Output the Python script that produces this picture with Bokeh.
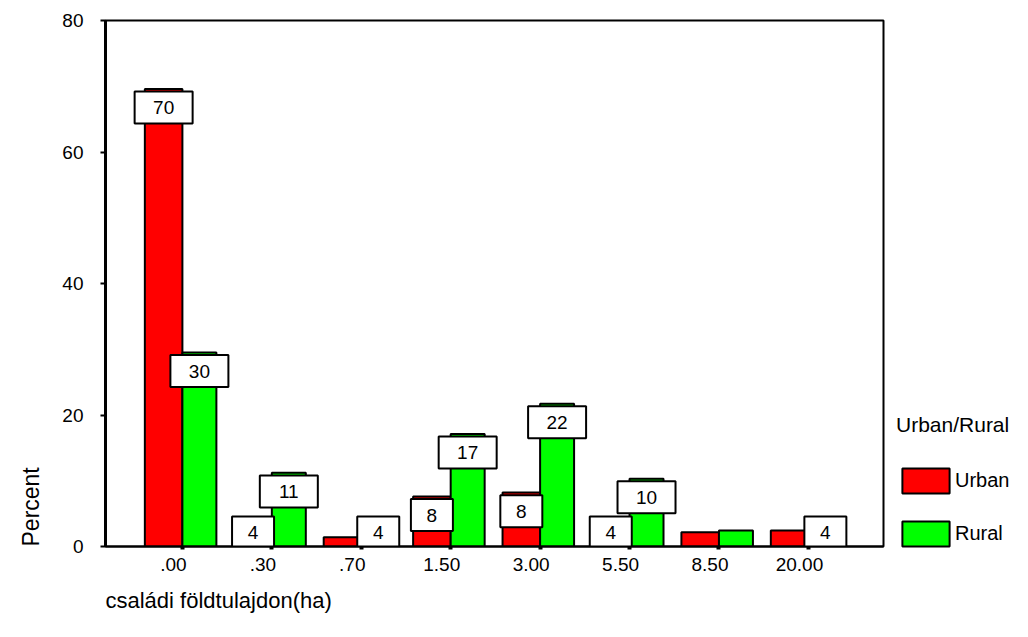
import math
from bokeh.plotting import figure
from bokeh.models import Range1d, FixedTicker, Legend, LegendItem, Title, LinearAxis
from bokeh.core.properties import value
from bokeh.embed import file_html
from bokeh.resources import INLINE

# ---- data ----
categories = [".00", ".30", ".70", "1.50", "3.00", "5.50", "8.50", "20.00"]
urban = [69.6, 3.9, 1.4, 7.6, 8.2, 3.9, 2.15, 2.45]
rural = [29.5, 11.2, 3.9, 17.1, 21.7, 10.3, 2.45, 3.9]
urban_labels = ["70", "4", "", "8", "8", "4", "", ""]
rural_labels = ["30", "11", "4", "17", "22", "10", "", "4"]
y_ticks = [0, 20, 40, 60, 80]
series_names = ["Urban", "Rural"]
legend_title = "Urban/Rural"
x_title = "családi földtulajdon(ha)"
y_title = "Percent"

FONT = "Liberation Sans"
RED = "#FF0000"
GREEN = "#00FF00"

idx = list(range(len(categories)))

p = figure(frame_width=778, frame_height=526,
           min_border_left=105, min_border_right=129,
           min_border_top=20, min_border_bottom=75,
           x_range=Range1d(-0.86, 7.84), y_range=Range1d(0, 80),
           x_axis_location=None,
           output_backend="svg", toolbar_location=None,
           background_fill_color="white", border_fill_color="white")

p.xgrid.visible = False
p.ygrid.visible = False
p.outline_line_color = "black"
p.outline_line_width = 2

# x axis: tick marks at the group centres
tick_axis = LinearAxis(ticker=FixedTicker(ticks=idx))
tick_axis.major_tick_out = 3
tick_axis.major_tick_in = 0
tick_axis.major_tick_line_width = 4
tick_axis.minor_tick_out = 0
tick_axis.minor_tick_in = 0
tick_axis.axis_line_width = 2
tick_axis.axis_line_color = "black"
tick_axis.major_label_text_font_size = "1px"
tick_axis.major_label_text_alpha = 0
tick_axis.major_label_standoff = 0
p.add_layout(tick_axis, "below")

# x axis: category labels (slightly left of the ticks, as in the original)
xt = [round(i - 0.1, 2) for i in idx]
label_axis = LinearAxis(ticker=FixedTicker(ticks=xt))
label_axis.major_label_overrides = {t: c for t, c in zip(xt, categories)}
label_axis.major_tick_out = 0
label_axis.major_tick_in = 0
label_axis.minor_tick_out = 0
label_axis.minor_tick_in = 0
label_axis.axis_line_color = None
label_axis.major_label_text_font = FONT
label_axis.major_label_text_font_size = "19px"
label_axis.major_label_text_color = "black"
label_axis.major_label_standoff = 8
p.add_layout(label_axis, "below")

# x title, left aligned at the frame's left edge
p.add_layout(Title(text=x_title, align="left", text_font=FONT,
                   text_font_size="22px", text_font_style="normal",
                   text_color="black", standoff=24), "below")

p.yaxis.ticker = FixedTicker(ticks=y_ticks)
p.yaxis.major_tick_out = 5
p.yaxis.major_tick_in = 0
p.yaxis.major_tick_line_width = 2
p.yaxis.minor_tick_out = 0
p.yaxis.minor_tick_in = 0
p.yaxis.axis_line_width = 3
p.yaxis.axis_line_color = "black"
p.yaxis.major_label_text_font = FONT
p.yaxis.major_label_text_font_size = "19px"
p.yaxis.major_label_text_color = "black"
p.yaxis.major_label_standoff = 17

# bars
ux = [i - 0.21 for i in idx]
rx = [i + 0.19 for i in idx]
r_urban = p.vbar(x=ux, width=0.42, top=urban, bottom=0,
                 fill_color=RED, line_color="black", line_width=2)
r_rural = p.vbar(x=rx, width=0.38, top=rural, bottom=0,
                 fill_color=GREEN, line_color="black", line_width=2)

# value label boxes
for xs, vals, labs in ((ux, urban, urban_labels), (rx, rural, rural_labels)):
    bx, by, bw, bt = [], [], [], []
    for x, v, l in zip(xs, vals, labs):
        if not l:
            continue
        bx.append(x)
        by.append(max(v - 2.82, 2.13))
        bw.append(58 if len(l) > 1 else 42)
        bt.append(l)
    p.rect(x=bx, y=by, width=bw, height=32, width_units="screen",
           height_units="screen", fill_color="white", line_color="black",
           line_width=2)
    p.text(x=bx, y=by, text=bt, text_align="center", text_baseline="middle",
           text_font=value(FONT), text_font_size="19px", text_color="black")

# legend (outside the frame, on the right)
legend = Legend(items=[LegendItem(label=series_names[0], renderers=[r_urban]),
                       LegendItem(label=series_names[1], renderers=[r_rural])],
                location=(13, -3), glyph_width=59, glyph_height=31,
                label_height=31, label_standoff=0, spacing=22, padding=0,
                margin=0, border_line_alpha=0, background_fill_alpha=0,
                label_text_font=FONT, label_text_font_size="20px",
                label_text_color="black",
                title=legend_title, title_text_font=FONT,
                title_text_font_size="21px", title_text_font_style="normal",
                title_text_color="black", title_standoff=28)
p.add_layout(legend, "right")

# y title
p.add_layout(Title(text=y_title, align="left", text_font=FONT,
                   text_font_size="23px", text_font_style="normal",
                   text_color="black", standoff=31), "left")

open("out.html", "w").write(file_html(p, INLINE))
